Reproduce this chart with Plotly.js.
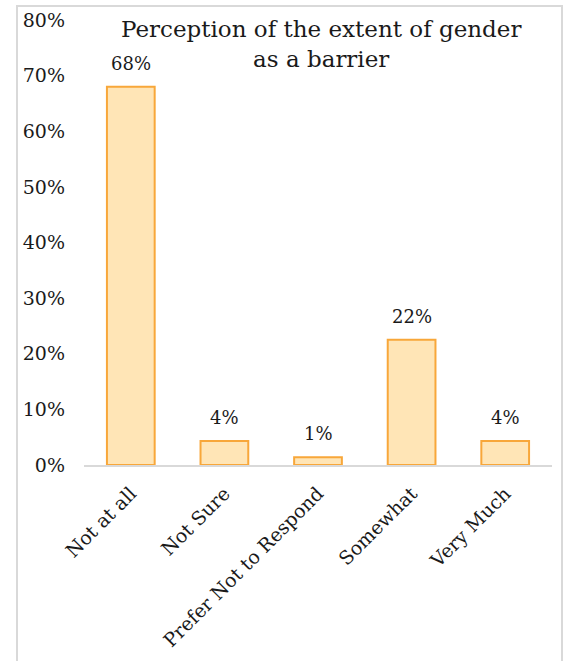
<!DOCTYPE html>
<html>
<head>
<meta charset="utf-8">
<script src="https://cdn.plot.ly/plotly-3.0.1.min.js"></script>
<style>
  html, body { margin: 0; padding: 0; background: #fff; }
  #wrap { position: relative; width: 565px; height: 661px; }
  #chart { position: absolute; left: 0; top: 0; width: 565px; height: 661px; }
  #frame { position: absolute; left: 16px; top: 5px; width: 547px; height: 660px;
           border: 2px solid #d9d9d9; pointer-events: none; box-sizing: border-box; }
</style>
</head>
<body>
<div id="wrap">
  <div id="chart"></div>
  <div id="frame"></div>
</div>
<script>
const categories = ["Not at all", "Not Sure", "Prefer Not to Respond", "Somewhat", "Very Much"];
const values = [0.68, 0.043, 0.014, 0.225, 0.043];
const valueLabels = ["68%", "4%", "1%", "22%", "4%"];
const yTickValues = [0, 0.1, 0.2, 0.3, 0.4, 0.5, 0.6, 0.7, 0.8];
const yTickLabels = ["0%", "10%", "20%", "30%", "40%", "50%", "60%", "70%", "80%"];
const chartTitle = "Perception of the extent of gender<br>as a barrier";

const serif = "DejaVu Serif, Liberation Serif, serif";
const ink = "#1a1a1a";

const trace = {
  type: "bar",
  x: categories,
  y: values,
  marker: {
    color: "#FFE5B6",
    line: { color: "#F8A73A", width: 2 }
  },
  hoverinfo: "skip"
};

const labelAnnotations = categories.map((c, i) => ({
  x: c, y: values[i], xref: "x", yref: "y",
  text: valueLabels[i], showarrow: false,
  yanchor: "bottom", yshift: 11,
  font: { family: serif, size: 18, color: ink }
}));

const titleAnnotation = {
  xref: "paper", yref: "paper", x: 0.506, y: 0.946,
  xanchor: "center", yanchor: "middle",
  text: chartTitle, showarrow: false, align: "center",
  font: { family: serif, size: 23, color: ink }
};

const layout = {
  width: 565,
  height: 661,
  margin: { l: 84, r: 13, t: 20, b: 196 },
  paper_bgcolor: "#ffffff",
  plot_bgcolor: "#ffffff",
  showlegend: false,
  bargap: 0.49,
  font: { family: serif, size: 19, color: ink },
  annotations: [titleAnnotation].concat(labelAnnotations),
  xaxis: {
    type: "category",
    tickangle: -45,
    showgrid: false,
    zeroline: false,
    showline: true,
    linecolor: "#d9d9d9",
    linewidth: 2,
    ticks: "",
    ticklabelstandoff: 8,
    tickfont: { family: serif, size: 19, color: ink }
  },
  yaxis: {
    range: [0, 0.8],
    tickvals: yTickValues,
    ticktext: yTickLabels,
    showgrid: false,
    zeroline: false,
    showline: false,
    ticks: "",
    ticklabelstandoff: 18,
    tickfont: { family: serif, size: 19, color: ink }
  }
};

Plotly.newPlot("chart", [trace], layout, { displayModeBar: false, staticPlot: true });
</script>
</body>
</html>
